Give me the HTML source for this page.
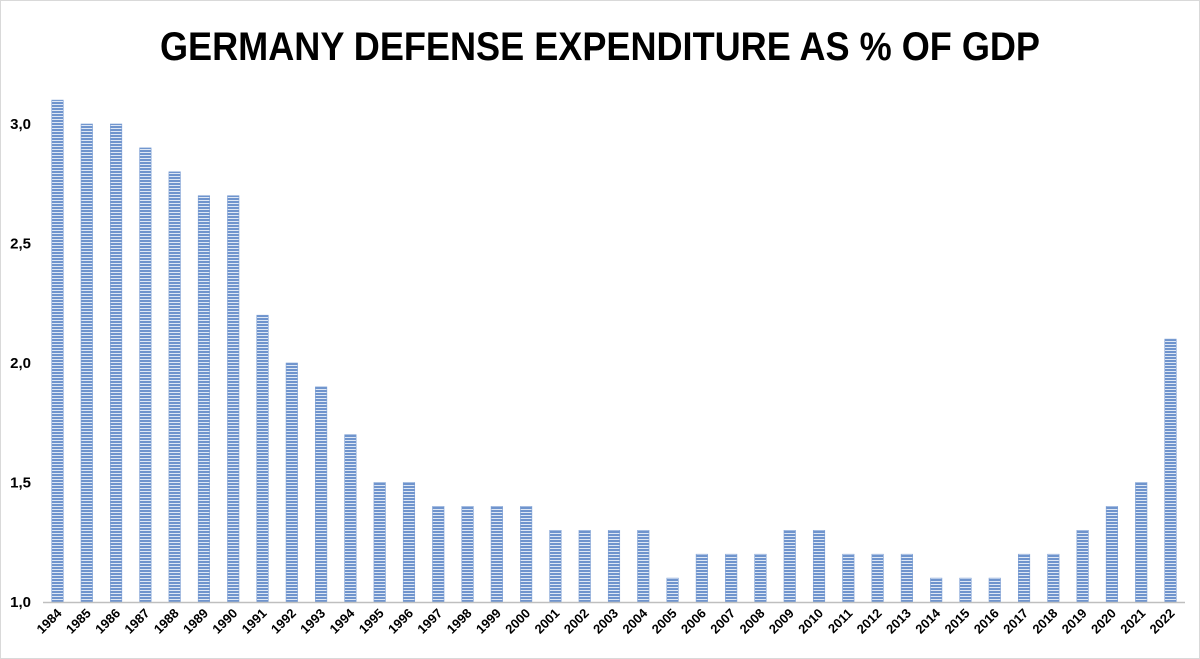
<!DOCTYPE html>
<html><head><meta charset="utf-8"><style>
html,body{margin:0;padding:0;background:#fff;}
svg{display:block;font-family:"Liberation Sans",Arial,sans-serif;}
</style></head><body>
<svg id="chart" width="1200" height="659" viewBox="0 0 1200 659">
<defs>
<pattern id="stripes" width="4" height="3" patternUnits="userSpaceOnUse">
<rect width="4" height="3" fill="#dfe8f5"/>
<rect width="4" height="2" fill="#6f94cd"/>
</pattern>
</defs>
<rect x="0.5" y="0.5" width="1199" height="658" fill="#fff" stroke="#d9d9d9"/>
<text x="600" y="60" text-anchor="middle" font-size="40" font-weight="bold" fill="#000" textLength="880" lengthAdjust="spacingAndGlyphs">GERMANY DEFENSE EXPENDITURE AS % OF GDP</text>
<g id="yaxis"></g><g id="bars"></g><g id="xaxis"></g>
</svg>
<script>
const years = [1984,1985,1986,1987,1988,1989,1990,1991,1992,1993,1994,1995,1996,1997,1998,1999,2000,2001,2002,2003,2004,2005,2006,2007,2008,2009,2010,2011,2012,2013,2014,2015,2016,2017,2018,2019,2020,2021,2022];
const values = [3.1,3.0,3.0,2.9,2.8,2.7,2.7,2.2,2.0,1.9,1.7,1.5,1.5,1.4,1.4,1.4,1.4,1.3,1.3,1.3,1.3,1.1,1.2,1.2,1.2,1.3,1.3,1.2,1.2,1.2,1.1,1.1,1.1,1.2,1.2,1.3,1.4,1.5,2.1];
const yTicks = [1.0,1.5,2.0,2.5,3.0];
const yTickLabels = ["1,0","1,5","2,0","2,5","3,0"];
const NS="http://www.w3.org/2000/svg";
const yMin=1.0, yPix0=602, pxPerUnit=239;
function y(v){return yPix0-(v-yMin)*pxPerUnit;}
const x0=57.5, step=(1170.5-57.5)/(years.length-1), bw=11.5;
function x(i){return x0+i*step;}
const ya=document.getElementById('yaxis');
yTicks.forEach((t,k)=>{
  const tx=document.createElementNS(NS,'text');
  tx.setAttribute('x',31);tx.setAttribute('y',y(t)+5);
  tx.setAttribute('text-anchor','end');tx.setAttribute('font-size','15');tx.setAttribute('font-weight','bold');
  tx.textContent=yTickLabels[k];
  
  
  ya.appendChild(tx);
});
const bg=document.getElementById('bars');
values.forEach((v,i)=>{
  const r=document.createElementNS(NS,'rect');
  r.setAttribute('x',x(i)-bw/2);r.setAttribute('y',y(v));
  r.setAttribute('width',bw);r.setAttribute('height',yPix0-y(v));
  r.setAttribute('fill','url(#stripes)');r.setAttribute('stroke','#7a9dd3');r.setAttribute('stroke-width','0.6');
  
  
  bg.appendChild(r);
});
const xa=document.getElementById('xaxis');
const ln=document.createElementNS(NS,'line');
ln.setAttribute('x1',43);ln.setAttribute('x2',1185);ln.setAttribute('y1',yPix0+0.5);ln.setAttribute('y2',yPix0+0.5);
ln.setAttribute('stroke','#bfbfbf');ln.setAttribute('stroke-width','1.5');


xa.appendChild(ln);
years.forEach((yr,i)=>{
  const tx=document.createElementNS(NS,'text');
  const cx=x(i)+5, cy=614;
  tx.setAttribute('x',cx);tx.setAttribute('y',cy);
  tx.setAttribute('text-anchor','end');tx.setAttribute('font-size','13');tx.setAttribute('font-weight','bold');
  tx.setAttribute('transform','rotate(-45 '+cx+' '+cy+')');
  tx.textContent=yr;
  
  
  xa.appendChild(tx);
});
</script>
</body></html>
